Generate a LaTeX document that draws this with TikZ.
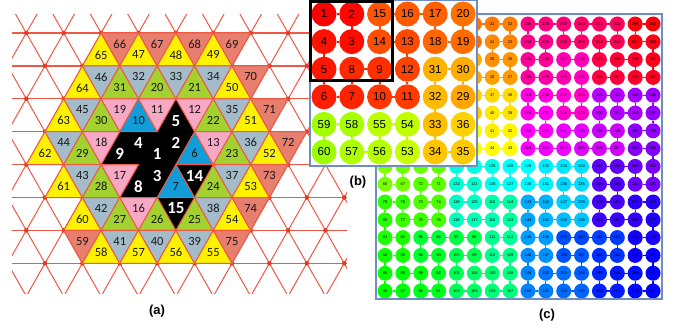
\documentclass[tikz,border=0pt]{standalone}
\usepackage{fontspec}
\setmainfont{Liberation Sans}
\newfontfamily\calib{Carlito}
\definecolor{gridred}{RGB}{239,88,66}
\definecolor{dotred}{RGB}{228,58,38}
\definecolor{ayel}{RGB}{255,242,0}
\definecolor{asal}{RGB}{231,126,110}
\definecolor{agry}{RGB}{164,187,201}
\definecolor{agrn}{RGB}{163,210,48}
\definecolor{apnk}{RGB}{247,168,196}
\definecolor{ablu}{RGB}{18,156,216}
\definecolor{boxblue}{RGB}{110,140,200}
\newcommand\hilstep[1]{%
  \pgfmathtruncatemacro\hilRX{mod(floor(\hilT/2),2)}%
  \pgfmathtruncatemacro\hilRY{mod(\hilT+\hilRX,2)}%
  \ifnum\hilRY=0\relax
    \ifnum\hilRX=1\relax
      \pgfmathtruncatemacro\hilX{#1-1-\hilX}%
      \pgfmathtruncatemacro\hilY{#1-1-\hilY}%
    \fi
    \let\hilTmp\hilX\let\hilX\hilY\let\hilY\hilTmp
  \fi
  \pgfmathtruncatemacro\hilX{\hilX+#1*\hilRX}%
  \pgfmathtruncatemacro\hilY{\hilY+#1*\hilRY}%
  \pgfmathtruncatemacro\hilT{floor(\hilT/4)}%
}
\newcommand\hilxy[1]{%
  \pgfmathtruncatemacro\hilT{#1}\def\hilX{0}\def\hilY{0}%
  \hilstep{1}\hilstep{2}\hilstep{4}\hilstep{8}%
}
\newcommand\huecol[1]{%
  \pgfmathsetmacro\hh{(#1)/256}%
  \convertcolorspec{hsb}{\hh,1,1}{rgb}\hilRGB
  \edef\hilDef{\noexpand\definecolor{hc}{rgb}{\hilRGB}}\hilDef
}
\begin{document}
\begin{tikzpicture}[x=1pt,y=-1pt,
  gridln/.style={draw=gridred,line width=1pt},
  gridh/.style={draw=gridred,line width=1.4pt},
  tri/.style={draw=gridred,line width=1pt,line join=round},
  blk/.style={fill=black,draw=black,line width=0.6pt,line join=round},
  alab/.style={font=\calib\fontsize{12.5}{12.5}\selectfont,text=black!90,inner sep=0pt},
  wlab/.style={font=\calib\bfseries\fontsize{17}{17}\selectfont,text=white,inner sep=0pt},
  ccirc/.style={circle,minimum size=15pt,inner sep=0pt,outer sep=0pt,font=\fontsize{4}{4}\selectfont},
  cconn/.style={line width=1.2pt},
  bcirc/.style={circle,minimum size=25pt,inner sep=0pt,outer sep=0pt,font=\fontsize{11.5}{11.5}\selectfont},
  bconn/.style={line width=2pt},
  plab/.style={font=\bfseries\fontsize{13}{13}\selectfont,inner sep=0pt}]
\useasboundingbox (0,0) rectangle (675,329);
\fill[white] (0,0) rectangle (675,329);

% ---------- panel (a): triangular grid ----------
\begin{scope}
\clip (12,15) rectangle (347,293);
\begin{scope}[shift={(26.3pt,-33pt)},x=18.7pt,y=-32.9pt]
  \foreach \m in {0,...,7} \draw[gridh] (-3,\m) -- (20,\m);
  \foreach \c in {-12,-10,...,20} \draw[gridln] (\c-1,-1) -- (\c+9,9);
  \foreach \c in {-2,0,...,28} \draw[gridln] (\c+1,-1) -- (\c-9,9);
  \foreach \m in {0,...,7}{\foreach \p in {-2,...,19}{%
    \pgfmathtruncatemacro\pq{mod(\p+\m+40,2)}%
    \ifnum\pq=0\relax \fill[dotred] (\p,\m) circle (2.3pt);\fi}}
\end{scope}
\end{scope}

\begin{scope}[shift={(26.3pt,-33pt)},x=18.7pt,y=-32.9pt]
  \foreach \m/\p/\s/\n in {2/8/1/5,3/5/1/9,3/6/0/4,3/7/1/1,3/8/0/2,4/6/1/8,4/7/0/3,4/9/0/14,5/8/0/15}
    \path[blk] (\p,\m+1-\s) -- (\p-1,\m+\s) -- (\p+1,\m+\s) -- cycle;
  \foreach \m/\p/\s/\c/\n in {
    0/4/1/ayel/65,0/5/0/asal/66,0/6/1/ayel/47,0/7/0/asal/67,0/8/1/ayel/48,0/9/0/asal/68,0/10/1/ayel/49,0/11/0/asal/69,
    1/3/1/ayel/64,1/4/0/agry/46,1/5/1/agrn/31,1/6/0/agry/32,1/7/1/agrn/20,1/8/0/agry/33,1/9/1/agrn/21,1/10/0/agry/34,1/11/1/ayel/50,1/12/0/asal/70,
    2/2/1/ayel/63,2/3/0/agry/45,2/4/1/agrn/30,2/5/0/apnk/19,2/6/1/ablu/10,2/7/0/apnk/11,2/9/0/apnk/12,2/10/1/agrn/22,2/11/0/agry/35,2/12/1/ayel/51,2/13/0/asal/71,
    3/1/1/ayel/62,3/2/0/agry/44,3/3/1/agrn/29,3/4/0/apnk/18,3/9/1/ablu/6,3/10/0/apnk/13,3/11/1/agrn/23,3/12/0/agry/36,3/13/1/ayel/52,3/14/0/asal/72,
    4/2/1/ayel/61,4/3/0/agry/43,4/4/1/agrn/28,4/5/0/apnk/17,4/8/1/ablu/7,4/10/1/agrn/24,4/11/0/agry/37,4/12/1/ayel/53,4/13/0/asal/73,
    5/3/1/ayel/60,5/4/0/agry/42,5/5/1/agrn/27,5/6/0/apnk/16,5/7/1/agrn/26,5/9/1/agrn/25,5/10/0/agry/38,5/11/1/ayel/54,5/12/0/asal/74,
    6/3/0/asal/59,6/4/1/ayel/58,6/5/0/agry/41,6/6/1/ayel/57,6/7/0/agry/40,6/8/1/ayel/56,6/9/0/agry/39,6/10/1/ayel/55,6/11/0/asal/75}{%
    \path[tri,fill=\c] (\p,\m+1-\s) -- (\p-1,\m+\s) -- (\p+1,\m+\s) -- cycle;
    \node[alab] (a\n) at (\p,\m+0.3333+\s/3) {\n};}
  \foreach \m/\p/\s/\n in {2/8/1/5,3/5/1/9,3/6/0/4,3/7/1/1,3/8/0/2,4/6/1/8,4/7/0/3,4/9/0/14,5/8/0/15}
    \node[wlab] (a\n) at (\p,\m+0.3333+\s/3) {\n};
\end{scope}

% ---------- panel (c): 16x16 Hilbert grid ----------
\foreach \d in {0,...,255}{%
  \hilxy{\d}%
  \pgfmathtruncatemacro\nn{\d+1}%
  \huecol{\d}%
  \pgfmathtruncatemacro\hid{(\hilX<6)&&(\hilY<8)}%
  \ifnum\hid=1\relax
    \node[ccirc,fill=hc] (c\nn) at ({385+17.87*\hilX},{24+17.8*\hilY}) {};
  \else
    \node[ccirc,fill=hc] (c\nn) at ({385+17.87*\hilX},{24+17.8*\hilY}) {\nn};
  \fi}
\foreach \d in {1,...,255}{%
  \pgfmathtruncatemacro\ee{\d+1}%
  \huecol{\d-1}%
  \draw[cconn,draw=hc] (c\d) -- (c\ee);}
\draw[boxblue,line width=1.3pt] (376,14) rectangle (662,299);

% ---------- panel (b): zoomed 6x6 ----------
\fill[white] (310,0.6) rectangle (477,166);
\begin{scope}
\clip (310,0.6) rectangle (477,166);
\foreach \d in {0,...,63}{%
  \hilxy{\d}%
  \pgfmathtruncatemacro\nn{\d+1}%
  \huecol{\d}%
  \pgfmathtruncatemacro\shw{(\hilX<6)&&(\hilY<6)}%
  \ifnum\shw=1\relax
    \node[bcirc,fill=hc] (b\nn) at ({324+27.8*\hilX},{14+27.6*\hilY}) {\nn};
  \else
    \node[bcirc,fill=hc] (b\nn) at ({324+27.8*\hilX},{14+27.6*\hilY}) {};
  \fi}
\foreach \d in {1,...,63}{%
  \pgfmathtruncatemacro\ee{\d+1}%
  \huecol{\d-1}%
  \draw[bconn,draw=hc] (b\d) -- (b\ee);}
\end{scope}
\draw[boxblue,line width=1.3pt] (310,0.6) rectangle (477,166);
\draw[black,line width=3pt] (310,1.5) rectangle (392,81);

% ---------- labels ----------
\node[plab] (la) at (157,311) {(a)};
\node[plab] (lb) at (358,182) {(b)};
\node[plab] (lc) at (547,315) {(c)};
\end{tikzpicture}
\end{document}
